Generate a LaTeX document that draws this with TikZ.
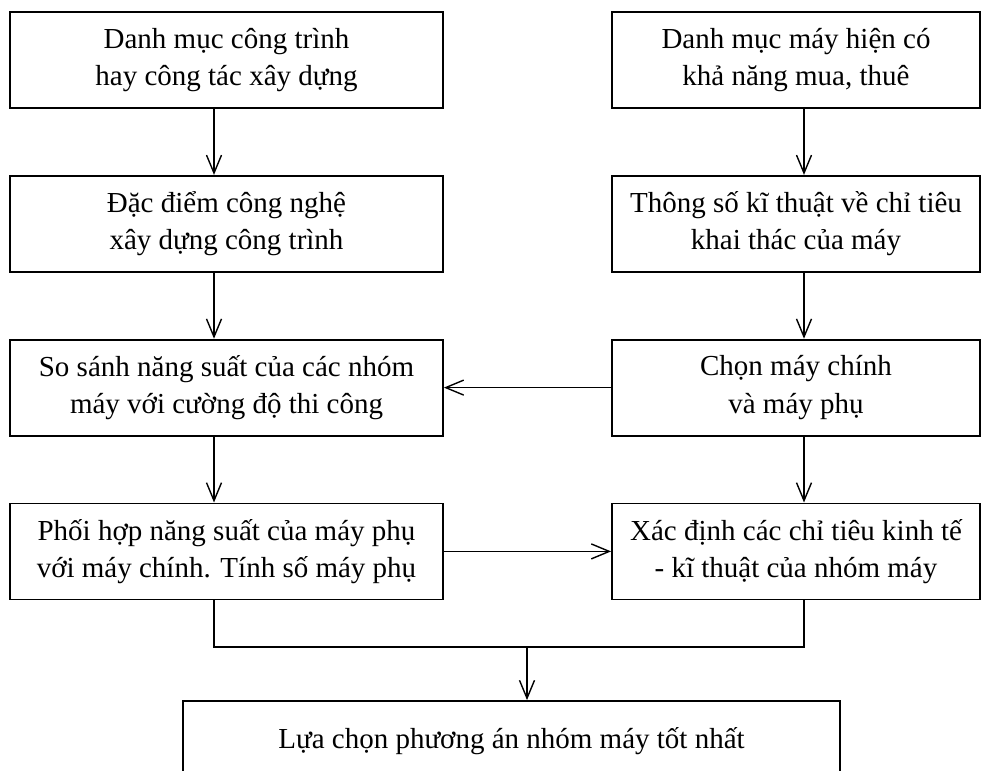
\documentclass[tikz,border=0pt]{standalone}
\usepackage{fontspec}
\setmainfont{Liberation Serif}
\usepackage{tikz}
\usetikzlibrary{arrows.meta, positioning}

\begin{document}
\begin{tikzpicture}[
  x=1pt, y=-1pt,
  node distance=66pt and 169pt,
  box/.style={rectangle, draw, line width=1.8pt, inner sep=0pt, align=center,
              minimum height=96pt, font=\fontsize{29}{37.5}\selectfont},
  boxl/.style={box, minimum width=433pt},
  boxr/.style={box, minimum width=368pt},
  arrow/.style={-{Straight Barb[length=18pt, width=15pt]}, line width=1.4pt},
  line/.style={line width=1.6pt}
]
\clip (0,0) rectangle (983,771);
\fill[white] (0,0) rectangle (983,771);
\node[boxl] (dmct) at (226.5,60) {Danh mục công trình\\hay công tác xây dựng};
\node[boxl, below=of dmct] (dacdiem) {Đặc điểm công nghệ\\xây dựng công trình};
\node[boxl, below=of dacdiem] (sosanh) {So sánh năng suất của các nhóm\\máy với cường độ thi công};
\node[boxl, below=of sosanh] (phoihop) {Phối hợp năng suất của máy phụ\\với máy chính. Tính số máy phụ};
\node[boxr] (dmmay) at (796,60) {Danh mục máy hiện có\\khả năng mua, thuê};
\node[boxr, below=of dmmay] (thongso) {Thông số kĩ thuật về chỉ tiêu\\khai thác của máy};
\node[boxr, below=of thongso] (chonmay) {Chọn máy chính\\và máy phụ};
\node[boxr, below=of chonmay] (xacdinh) {Xác định các chỉ tiêu kinh tế\\- kĩ thuật của nhóm máy};
\node[box, minimum width=657pt, minimum height=80pt] (luachon) at (511.5,741) {Lựa chọn phương án nhóm máy tốt nhất};
\coordinate (hop) at (527,647);
\draw[arrow] ([xshift=-12.5pt]dmct.south) -- ([xshift=-12.5pt]dacdiem.north);
\draw[arrow] ([xshift=-12.5pt]dacdiem.south) -- ([xshift=-12.5pt]sosanh.north);
\draw[arrow] ([xshift=-12.5pt]sosanh.south) -- ([xshift=-12.5pt]phoihop.north);
\draw[arrow] ([xshift=8pt]dmmay.south) -- ([xshift=8pt]thongso.north);
\draw[arrow] ([xshift=8pt]thongso.south) -- ([xshift=8pt]chonmay.north);
\draw[arrow] ([xshift=8pt]chonmay.south) -- ([xshift=8pt]xacdinh.north);
\draw[arrow] (chonmay.west) -- (sosanh.east);
\draw[arrow] (phoihop.east) -- (xacdinh.west);
\draw[line] ([xshift=-12.5pt]phoihop.south) |- (hop) -| ([xshift=8pt]xacdinh.south);
\draw[arrow] (hop) -- (hop |- luachon.north);
\end{tikzpicture}
\end{document}
